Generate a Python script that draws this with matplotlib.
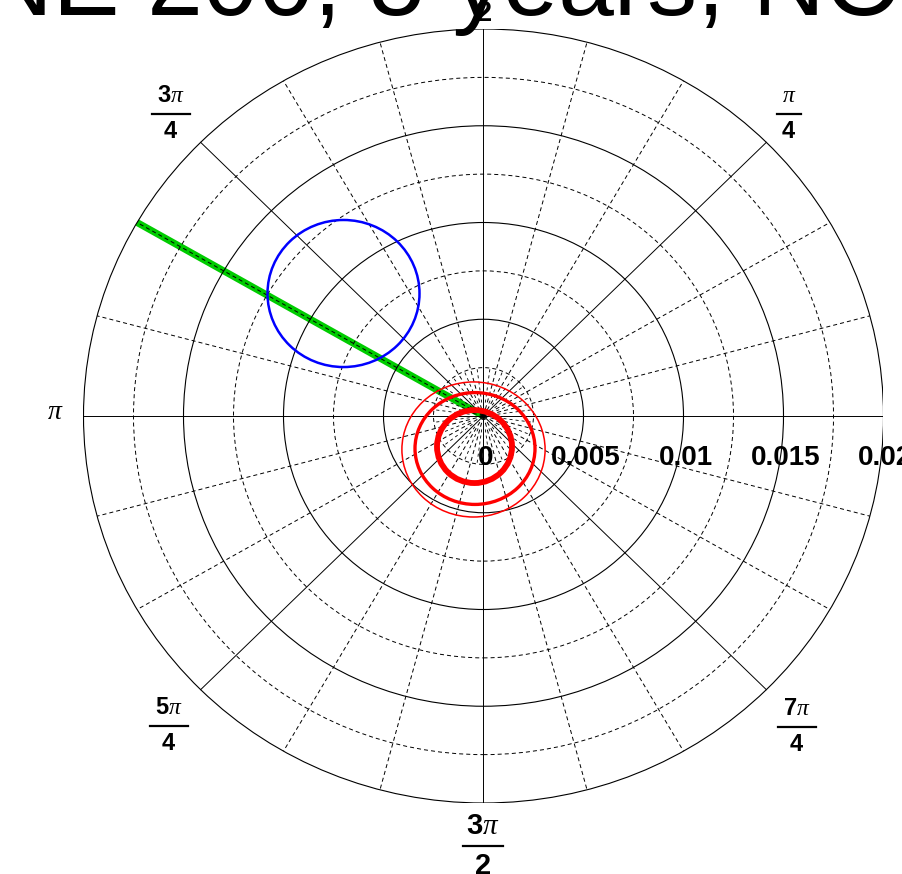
import numpy as np
import matplotlib
matplotlib.use("Agg")
import matplotlib.pyplot as plt
from matplotlib.patches import Circle, Ellipse
from matplotlib.lines import Line2D

plt.rcParams['font.family'] = ['Liberation Sans', 'DejaVu Sans']
plt.rcParams['mathtext.fontset'] = 'custom'
plt.rcParams['mathtext.bf'] = 'Liberation Sans:bold'
plt.rcParams['mathtext.rm'] = 'Liberation Sans:bold'
plt.rcParams['mathtext.it'] = 'Liberation Serif:italic'
plt.rcParams['lines.scale_dashes'] = False

# radial axis
r_max = 0.02
r_major = [0.005, 0.01, 0.015, 0.02]
r_minor = [0.0025, 0.0075, 0.0125, 0.0175]
r_labels = ['0', '0.005', '0.01', '0.015', '0.02']
r_label_pos = [0.0, 0.005, 0.01, 0.015, 0.02]

# angular axis (degrees)
ang_major = [0, 45, 90, 135, 180, 225, 270, 315]
ang_minor = [15, 30, 60, 75, 105, 120, 150, 165, 195, 210, 240, 255, 285, 300, 330, 345]
# extra short spokes near the pole
ang_inner = [7.5 + 15 * k for k in range(24)]
r_inner = [0.0007, 0.0025]

# green best-fit direction
green_theta = [2.618, 2.618]
green_r = [0.0, 0.02]

# blue contour (centre x, centre y, radius)
blue_x = -0.0070
blue_y = 0.00633
blue_radius = 0.0038

# red contours
red_x = [-0.00045, -0.000425, -0.0005]
red_y = [-0.00158, -0.00168, -0.00173]
red_w = [0.00375, 0.0060, 0.00716]
red_h = [0.00377, 0.00578, 0.00698]
red_lw = [4.2, 2.4, 1.1]

W, H = 903, 874
fig = plt.figure(figsize=(W / 100, H / 100), dpi=100)
ax = fig.add_axes([83.5 / W, 71 / H, 800 / W, 774 / H])
ax.set_xlim(-r_max, r_max)
ax.set_ylim(-r_max, r_max)
ax.axis('off')

dash = (0, (2.9, 2.2))

# grid circles
for r in r_major:
    ax.add_patch(Circle((0, 0), r, fill=False, ec='black', lw=0.8, zorder=3))
for r in r_minor:
    ax.add_patch(Circle((0, 0), r, fill=False, ec='black', lw=0.7, ls=dash, zorder=3))

# grid spokes
for a in ang_major:
    t = np.radians(a)
    ax.plot([0, r_max * np.cos(t)], [0, r_max * np.sin(t)], color='black', lw=0.7, zorder=3)
for a in ang_minor:
    t = np.radians(a)
    ax.plot([0, r_max * np.cos(t)], [0, r_max * np.sin(t)], color='black', lw=0.7, ls=dash, zorder=3)
for a in ang_inner:
    t = np.radians(a)
    ax.plot(np.array(r_inner) * np.cos(t), np.array(r_inner) * np.sin(t), color='black',
            lw=0.6, ls=(0, (2.2, 2.2)), zorder=3)

# data
gx = np.array(green_r) * np.cos(green_theta)
gy = np.array(green_r) * np.sin(green_theta)
ax.plot(gx, gy, color='#00cc00', lw=5, solid_capstyle='butt', zorder=2)

ax.add_patch(Circle((blue_x, blue_y), blue_radius, fill=False, ec='#0000ff', lw=1.8, zorder=4))

for x, y, w, h, lw in zip(red_x, red_y, red_w, red_h, red_lw):
    ax.add_patch(Ellipse((x, y), w, h, fill=False, ec='#ff0000', lw=lw, zorder=4))

# radial labels
for r, lab in zip(r_label_pos, r_labels):
    ax.text(r + 0.0001, -0.00217, lab, ha='center', va='center', fontsize=20,
            fontweight='bold', zorder=5)


def px(x, y):
    return x / W, 1 - y / H


def frac_label(num, den, x, ybar, size=17, gap=18, bar_w=38):
    fig.text(*px(x, ybar - gap), num, ha='center', va='center', fontsize=size)
    fig.text(*px(x, ybar + gap), den, ha='center', va='center', fontsize=size)
    x0, y0 = px(x - bar_w / 2, ybar)
    x1, y1 = px(x + bar_w / 2, ybar)
    fig.add_artist(Line2D([x0, x1], [y0, y1], color='black', lw=1.6))


frac_label(r'$\mathbf{3}\pi$', r'$\mathbf{4}$', 171, 114)
frac_label(r'$\pi$', r'$\mathbf{4}$', 789, 114, bar_w=24)
frac_label(r'$\mathbf{5}\pi$', r'$\mathbf{4}$', 169, 726)
frac_label(r'$\mathbf{7}\pi$', r'$\mathbf{4}$', 797, 727)
frac_label(r'$\mathbf{3}\pi$', r'$\mathbf{2}$', 483, 846, size=21, gap=20, bar_w=40)
frac_label(r'$\pi$', r'$\mathbf{2}$', 484, -4, size=21, gap=17, bar_w=26)
fig.text(*px(55, 412), r'$\pi$', ha='center', va='center', fontsize=20)
fig.text(*px(909, 413), r'$\mathbf{0}$', ha='center', va='center', fontsize=20)

# title (mostly outside the canvas)
fig.text(*px(-164, 15), 'DUNE 200, 5 years, NO', ha='left', va='baseline', fontsize=72)

fig.savefig('out.png', dpi=100)
